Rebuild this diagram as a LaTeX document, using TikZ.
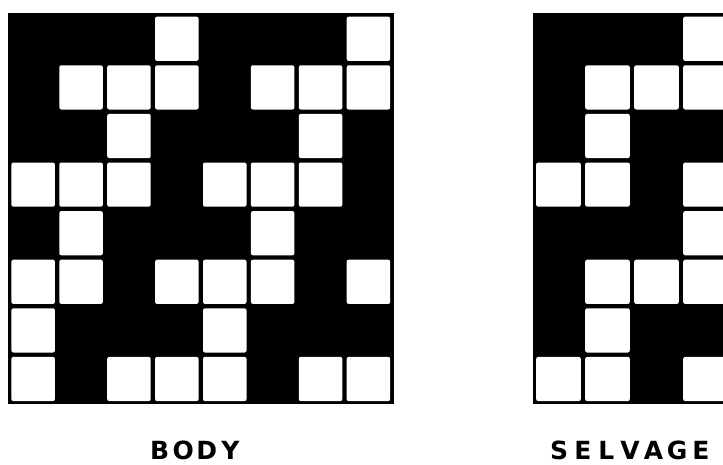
\documentclass[tikz,border=0pt]{standalone}
\usepackage{fontspec}
\setmainfont{DejaVu Sans}
\usetikzlibrary{positioning}
\newcommand{\draftletter}[1]{\makebox[23.6pt]{#1}}

\begin{document}
\begin{tikzpicture}[x=1pt,y=-1pt,
  weave/.style={fill=black},
  liftcell/.style={fill=white, rounded corners=2pt},
  caption/.style={font=\fontsize{25}{25}\selectfont\bfseries, inner sep=0pt,
    text depth=0pt, anchor=base},
]
\useasboundingbox (0,0) rectangle (723,464);

% Body weave, 8 x 8 draft (white = lifted).
\def\bx{9.2} \def\by{14.5} \def\bw{47.9} \def\bh{48.6}
\fill[weave] (\bx-1.4,\by-1.9) rectangle (\bx+8*\bw+1.2,\by+8*\bh+1);
\foreach \cols [count=\r] in {{4,8},{2,3,4,6,7,8},{3,7},{1,2,3,5,6,7},{2,6},{1,2,4,5,6,8},{1,5},{1,3,4,5,7,8}}
  \foreach \c in \cols
    \fill[liftcell] ({\bx+(\c-1)*\bw+2.2},{\by+(\r-1)*\bh+2.2}) rectangle ({\bx+\c*\bw-2.2},{\by+\r*\bh-2.2});

% Selvage weave, cut off at the right edge.
\begin{scope}
  \clip (0,0) rectangle (723,464);
  \def\sx{534} \def\sw{49}
  \fill[weave] (\sx-1,\by-1.9) rectangle (\sx+5*\sw,\by+8*\bh+1);
  \foreach \cols [count=\r] in {{4},{2,3,4},{2},{1,2,4},{4},{2,3,4},{2},{1,2,4}}
    \foreach \c in \cols
      \fill[liftcell] ({\sx+(\c-1)*\sw+2.2},{\by+(\r-1)*\bh+2.2}) rectangle ({\sx+\c*\sw-2.2},{\by+\r*\bh-2.2});
\end{scope}

\node[caption] (body) at (195,459)
  {\draftletter{B}\draftletter{O}\draftletter{D}\draftletter{Y}};
\node[caption] (selvage) at (630,459)
  {\draftletter{S}\draftletter{E}\draftletter{L}\draftletter{V}\draftletter{A}\draftletter{G}\draftletter{E}};

\end{tikzpicture}
\end{document}
